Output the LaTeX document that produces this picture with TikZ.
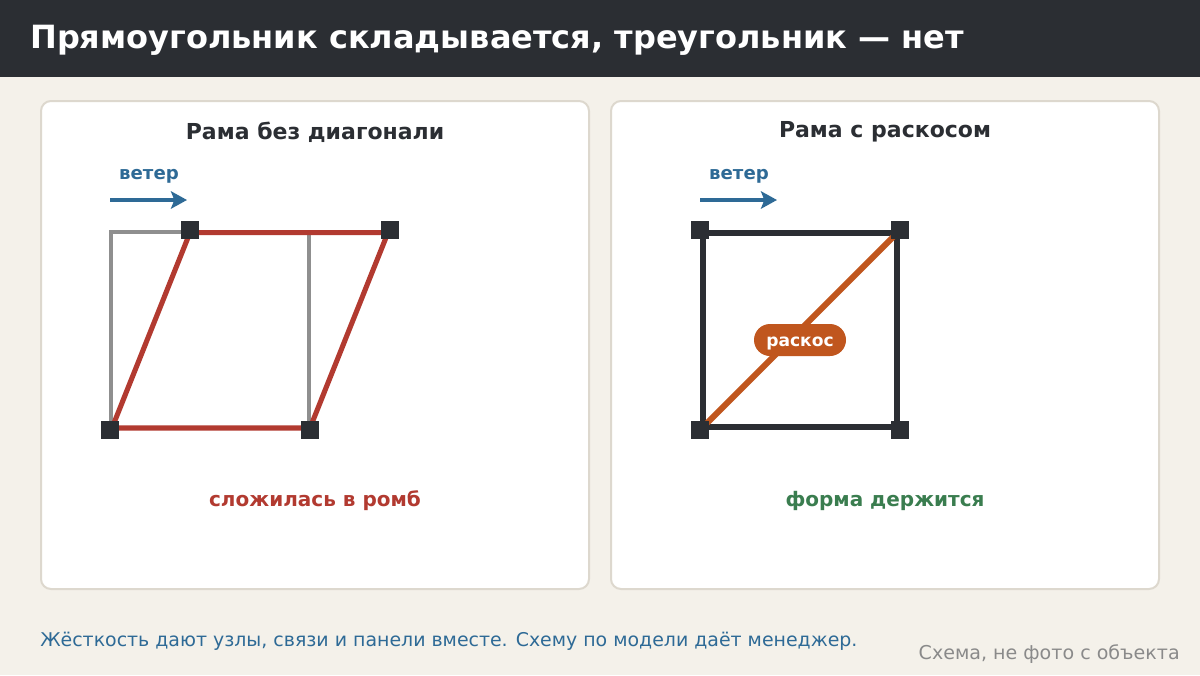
\documentclass[tikz,border=0pt]{standalone}
\usepackage{fontspec}
\setmainfont{DejaVu Sans}
\usetikzlibrary{positioning,arrows.meta,shapes}
\definecolor{mybg}{RGB}{244,241,234}
\definecolor{mydark}{RGB}{43,46,51}
\definecolor{myedge}{RGB}{221,216,206}
\definecolor{myblue}{RGB}{46,106,150}
\definecolor{myred}{RGB}{178,58,48}
\definecolor{mygray}{RGB}{143,143,143}
\definecolor{myorange}{RGB}{192,86,30}
\definecolor{mygreen}{RGB}{58,125,79}
\definecolor{mynote}{RGB}{138,138,138}

\begin{document}
\begin{tikzpicture}[x=0.75pt,y=-0.75pt,
  panel/.style={fill=white,draw=myedge,line width=1.5pt,rounded corners=7.5pt},
  jnode/.style={fill=mydark,minimum size=13.5pt,inner sep=0pt},
  ptitle/.style={font=\bfseries\fontsize{16.5}{20}\selectfont,text=mydark},
  wind/.style={font=\bfseries\fontsize{13.6}{16}\selectfont,text=myblue},
  windarrow/.style={draw=myblue,line width=3pt,-{Stealth[length=12pt,width=13pt,inset=2.5pt]}},
  ghost/.style={draw=mygray,line width=2.3pt},
  bent/.style={draw=myred,line width=3.8pt},
  frame/.style={draw=mydark,line width=3.8pt},
  brace/.style={draw=myorange,line width=4.5pt},
  verdict/.style={font=\bfseries\fontsize{15}{18}\selectfont}]

  \useasboundingbox (0,0) rectangle (1200,675);
  \fill[mybg] (0,0) rectangle (1200,675);
  \fill[mydark] (0,0) rectangle (1200,77);
  \node (title) [anchor=west,inner sep=0pt,text=white,font=\bfseries\fontsize{24}{29}\selectfont]
    at (30,40) {Прямоугольник складывается, треугольник — нет};

  % panels
  \draw[panel] (41,101) rectangle (589,589);
  \draw[panel] (611,101) rectangle (1159,589);
  \node (t1) [ptitle] at (315,132) {Рама без диагонали};
  \node (t2) [ptitle] at (885,132) {Рама с раскосом};

  % left: frame without diagonal
  \node (w1) [wind] at (149,176) {ветер};
  \coordinate (a1) at (110,200);
  \coordinate (a2) at (187,200);
  \draw[windarrow] (a1) -- (a2);
  \coordinate (g1) at (111,232);
  \coordinate (g2) at (309,232);
  \coordinate (g3) at (309,428);
  \coordinate (g4) at (111,428);
  \draw[ghost] (g4) -- (g1) -- (g2) (g3) -- (g4) (g2) -- (g3);
  \node (l1) [jnode] at (110,430) {};
  \node (l2) [jnode] at (190,230) {};
  \node (l3) [jnode] at (390,230) {};
  \node (l4) [jnode] at (310,430) {};
  \draw[bent] ([xshift=1.5pt,yshift=1.5pt]l1.center) -- ([yshift=-1.9pt]l2.center)
    -- ([xshift=-1.5pt,yshift=-1.9pt]l3.center) -- ([yshift=1.5pt]l4.center) -- cycle;
  \foreach \n in {l1,l2,l3,l4} \node[jnode] at (\n) {};
  \node (v1) [verdict,text=myred] at (315,501) {сложилась в ромб};

  % right: frame with brace
  \node (w2) [wind] at (739,176) {ветер};
  \coordinate (b1) at (700,200);
  \coordinate (b2) at (777,200);
  \draw[windarrow] (b1) -- (b2);
  \node (r1) [jnode] at (700,430) {};
  \node (r2) [jnode] at (700,230) {};
  \node (r3) [jnode] at (900,230) {};
  \node (r4) [jnode] at (900,430) {};
  \draw[frame] ([xshift=2.25pt,yshift=2.25pt]r1.center) -- ([xshift=2.25pt,yshift=-2.25pt]r2.center)
    -- ([xshift=-2.25pt,yshift=-2.25pt]r3.center) -- ([xshift=-2.25pt,yshift=2.25pt]r4.center) -- cycle;
  \draw[brace] ([xshift=2.25pt,yshift=2.25pt]r1.center) -- ([xshift=-2.25pt,yshift=-2.25pt]r3.center);
  \foreach \n in {r1,r2,r3,r4} \node[jnode] at (\n) {};
  \node (tag) [fill=myorange,text=white,rounded rectangle,minimum width=69pt,minimum height=24pt,
    inner sep=0pt,text height=1.7ex,text depth=0pt,font=\bfseries\fontsize{12.8}{15}\selectfont]
    at (800,340) {раскос};
  \node (v2) [verdict,text=mygreen] at (885,501) {форма держится};

  % footer
  \node (foot) [anchor=west,inner sep=0pt,text=myblue,font=\fontsize{14.2}{17}\selectfont]
    at (40,641) {Жёсткость дают узлы, связи и панели вместе. Схему по модели даёт менеджер.};
  \node (note) [anchor=east,inner sep=0pt,text=mynote,font=\fontsize{14.3}{17}\selectfont]
    at (1180,654) {Схема, не фото с объекта};
\end{tikzpicture}
\end{document}
